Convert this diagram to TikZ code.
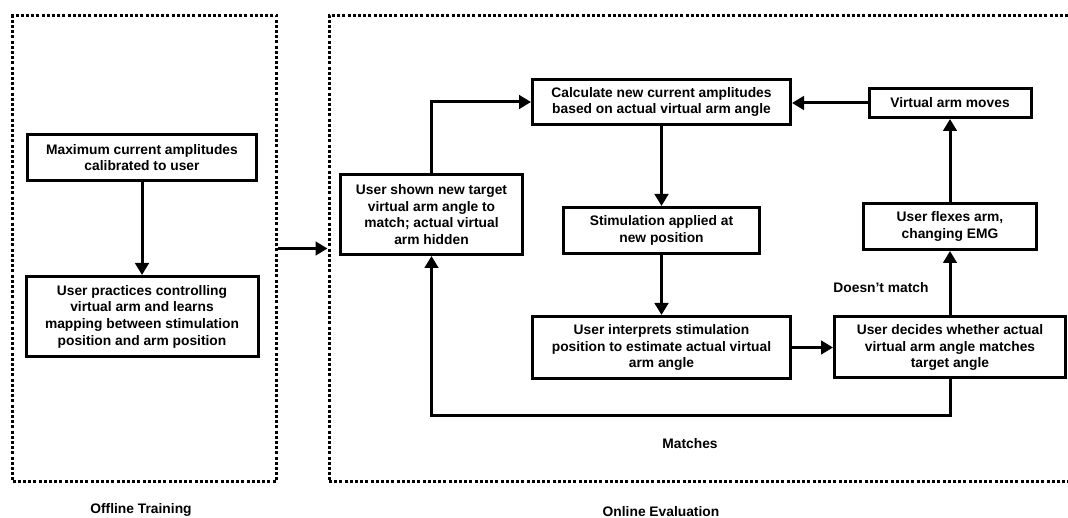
\documentclass[tikz,border=0pt]{standalone}
\usepackage{fontspec}
\setmainfont{Liberation Sans}
\usepackage{tikz}
\usetikzlibrary{positioning,arrows.meta,shapes.geometric,calc}

\begin{document}
\begin{tikzpicture}[x=1pt,y=-1pt,
    font=\fontsize{13.8}{16.7}\selectfont\bfseries]
            \useasboundingbox (0,0) rectangle (1068,518);

            % the two stages
            \begin{scope}[every node/.style={draw,line width=3pt,dash pattern=on 3pt off 2.2pt,inner sep=0pt}]
                \node[minimum width=264pt,minimum height=466pt] (offline) at (144.5,248.5) {};
                \node[minimum width=745pt,minimum height=466pt] (online) at (701.5,248.5) {};
            \end{scope}
            \node (offlbl) at (141,510) {Offline Training};
            \node (onlbl) at (661,512) {Online Evaluation};

            \begin{scope}[every node/.style={rectangle,draw,line width=3pt,align=center,inner sep=2pt}]
                \node[minimum width=229pt,minimum height=46pt] (maxamp) at (142,157.5) {Maximum current amplitudes\\calibrated to user};
                \node[minimum width=232pt,minimum height=80pt] (practice) at (142,316.5) {User practices controlling\\virtual arm and learns\\mapping between stimulation\\position and arm position};
                \node[minimum width=182pt,minimum height=80pt] (shown) at (431.5,214.5) {User shown new target\\virtual arm angle to\\match; actual virtual\\arm hidden};
                \node[minimum width=258pt,minimum height=45pt] (calc) at (661.5,102) {Calculate new current amplitudes\\based on actual virtual arm angle};
                \node[minimum width=196pt,minimum height=46pt] (stim) at (661.5,230.5) {Stimulation applied at\\new position};
                \node[minimum width=258pt,minimum height=62pt] (interp) at (661.5,347.5) {User interprets stimulation\\position to estimate actual virtual\\arm angle};
                \node[minimum width=231pt,minimum height=61pt] (decide) at (950,347.5) {User decides whether actual\\virtual arm angle matches\\target angle};
                \node[minimum width=173pt,minimum height=46pt] (flex) at (950,226.5) {User flexes arm,\\changing EMG};
                \node[minimum width=162pt,minimum height=29pt] (moves) at (950,103) {Virtual arm moves};
            \end{scope}

            \node (nomatch) at (881,288) {Doesn’t match};
            \node (match) at (690,444) {Matches};

            \begin{scope}[>={Triangle[length=12pt,width=13.5pt]},
                          every edge/.style={draw=black,line width=3pt}]
                \path [->] (maxamp) edge (practice);
                \path [->] (offline) edge (online);
                \path [->] (calc) edge (stim);
                \path [->] (stim) edge (interp);
                \path [->] (interp) edge (decide);
                \path [->] (decide) edge (flex);
                \path [->] (flex) edge (moves);
                \path [->] (moves.west) edge (moves.west -| calc.east);
                \draw [->,line width=3pt] (shown.north) |- (calc.west);
                \draw [->,line width=3pt] (decide.south) -- ++(0,36) -| (shown.south);
            \end{scope}
        \end{tikzpicture}
\end{document}
